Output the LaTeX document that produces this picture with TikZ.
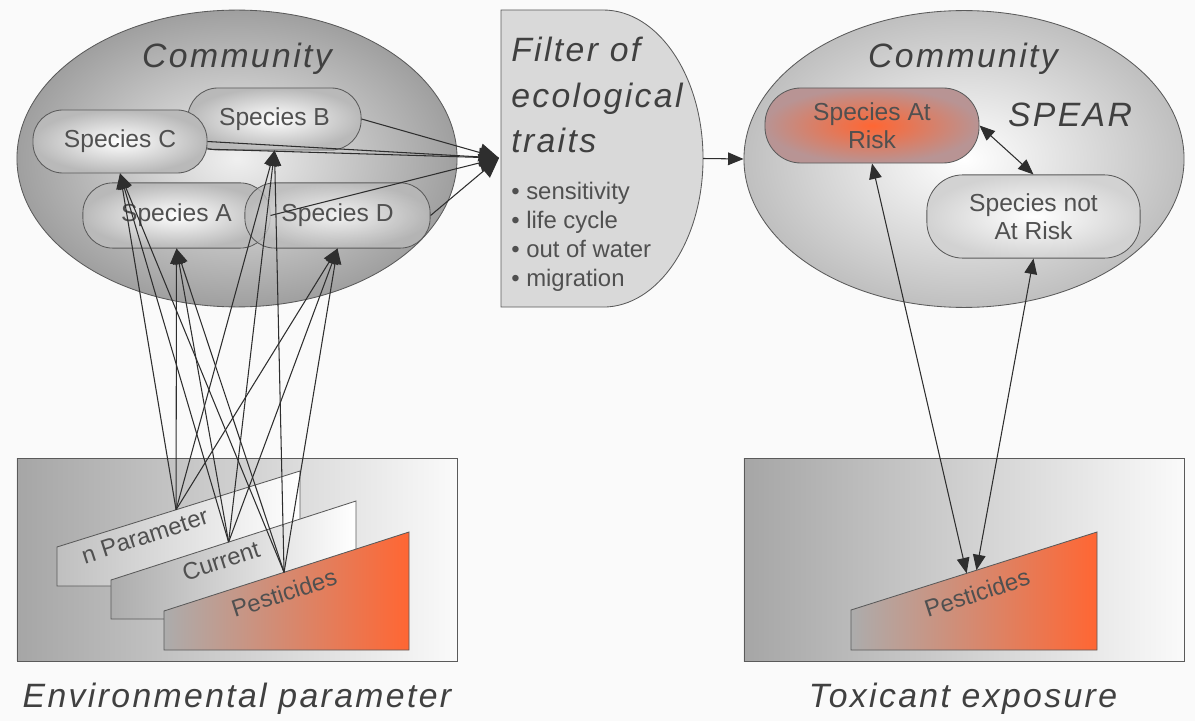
\documentclass[tikz,border=0pt]{standalone}
\usepackage{fontspec}
\setmainfont{Liberation Sans}
\newfontfamily\titlefont[LetterSpace=7]{Liberation Sans}
\usetikzlibrary{shapes.geometric,arrows.meta}

\definecolor{linegray}{HTML}{2E2E2E}
\definecolor{textgray}{HTML}{505050}
\definecolor{headgray}{HTML}{404040}
\definecolor{edgegray}{HTML}{5A5A5A}
\definecolor{filtergray}{HTML}{D9D9D9}
\definecolor{pestred}{HTML}{FF6633}
\definecolor{riskedge}{HTML}{B89494}
\definecolor{bggray}{HTML}{FAFAFA}

\tikzset{
  community/.style={ellipse, draw=edgegray, line width=0.6pt, inner sep=0pt,
    minimum width=11cm, minimum height=7.42cm},
  species/.style={draw=edgegray, line width=0.6pt, rounded corners=0.75cm,
    inner sep=0pt, inner color=white, outer color=gray!55, text=textgray,
    font=\fontsize{17.5}{19.5}\selectfont, align=center},
  headline/.style={text=headgray, font=\titlefont\itshape\fontsize{24}{29}\selectfont},
  traititem/.style={text=textgray, font=\fontsize{17}{20}\selectfont},
  envbox/.style={draw=edgegray, line width=0.6pt, left color=gray!70,
    right color=bggray, minimum width=11cm, minimum height=5.07cm},
  layer/.style={draw=edgegray, line width=0.6pt},
  layerlabel/.style={text=textgray, font=\fontsize{17}{20}\selectfont, rotate=18},
  link/.style={draw=linegray, line width=0.75pt, -{Triangle[length=11pt,width=9pt]}},
  bigtip/.style={draw=linegray, line width=0.75pt, -{Triangle[length=14pt,width=13pt]}},
  dlink/.style={draw=linegray, line width=0.75pt,
    {Triangle[length=11pt,width=9pt]}-{Triangle[length=11pt,width=9pt]}}
}

\begin{document}
\begin{tikzpicture}[x=0.025cm, y=-0.025cm]
\useasboundingbox[fill=bggray] (0,0) rectangle (1195,721);

% communities
\node[community, inner color=gray!12, outer color=gray!75] (commL) at (237,158.5) {};
\node[community, inner color=white, outer color=gray!50] (commR) at (964,159) {};
\node[headline, anchor=base] (commLhead) at (237,68) {Community};
\node[headline, anchor=base] (commRhead) at (963,68) {Community};
\node[headline, anchor=base] (spear) at (1070,127) {SPEAR};

% species, left
\node[species, minimum width=4.33cm, minimum height=1.55cm] (B) at (274.5,119) {Species B};
\node[species, minimum width=4.35cm, minimum height=1.575cm] (C) at (120,141.5) {Species C};
\node[species, minimum width=4.68cm, minimum height=1.63cm] (A) at (176.5,215.5) {Species A};
\node[species, fill opacity=0.8, text opacity=1, minimum width=4.63cm,
  minimum height=1.63cm] (D) at (337.5,215.5) {Species D};

% species, right
\node[species, inner color=pestred, outer color=riskedge, minimum width=5.35cm,
  minimum height=1.875cm, rounded corners=0.9cm] (risk) at (872,125.5) {Species At\\Risk};
\node[species, outer color=gray!35, minimum width=5.33cm, minimum height=2.08cm,
  rounded corners=0.9cm] (safe) at (1033.5,216.5) {Species not\\At Risk};

% filter
\draw[fill=filtergray, draw=edgegray, line width=0.6pt] (501,10) -- (603,10)
  arc[start angle=90, end angle=-90, x radius=2.5cm, y radius=3.7125cm]
  -- (501,307) -- cycle;
\coordinate (filterW) at (499,158);
\coordinate (filterE) at (703,158.5);
\foreach \txt [count=\i] in {Filter of, ecological, traits}
  \node[headline, anchor=base west, inner sep=0pt] (ft\i) at (511,{62+45.5*(\i-1)}) {\txt};
\foreach \txt [count=\i] in {sensitivity, life cycle, out of water, migration}
  \node[traititem, anchor=base west, inner sep=0pt] (fb\i) at (511,{200+28.7*(\i-1)}) {\textbullet\ \txt};

% environmental parameter
\node[envbox] (envL) at (237,559.5) {};
\draw[layer, left color=gray!50, right color=white]
  (57,586) -- (57,547) -- coordinate[pos=0.49] (srcN) (300,471) -- (300,586) -- cycle;
\draw[layer, left color=gray!65, right color=white]
  (111,619) -- (111,580) -- coordinate[pos=0.48] (srcCu) (356,501) -- (356,619) -- cycle;
\draw[layer, left color=gray!65, right color=pestred]
  (164,650) -- (164,611) -- coordinate[pos=0.49] (srcP) (409,532) -- (409,650) -- cycle;
\node[layerlabel] (lblN) at (145,536) {n Parameter};
\node[layerlabel] (lblCu) at (221,561) {Current};
\node[layerlabel] (lblP) at (284,593) {Pesticides};
\node[headline, anchor=base] (envhead) at (237,707) {Environmental parameter};

% toxicant exposure
\node[envbox] (envR) at (964,560) {};
\draw[layer, left color=gray!65, right color=pestred]
  (851,650) -- (851,610) -- coordinate[pos=0.47] (tgtA) coordinate[pos=0.51] (tgtB)
  (1097,532) -- (1097,650) -- cycle;
\node[layerlabel] (lblPR) at (977,593) {Pesticides};
\node[headline, anchor=base] (toxhead) at (963,707) {Toxicant exposure};

% connectors
\begin{scope}[link]
  \foreach \s in {srcN,srcCu,srcP}
    \foreach \t in {C,A,B,D}
      \draw (\s) -- (\t.south);
\end{scope}
\begin{scope}[bigtip]
  \draw (B.east) -- (filterW);
  \draw (C.east) -- (filterW);
  \draw (C.-5) -- (filterW);
  \draw (A.east) -- (filterW);
  \draw (D.east) -- (filterW);
\end{scope}
\draw[link] (filterE) -- (commR.west);
\draw[dlink] (risk.east) -- (safe.north);
\draw[dlink] (risk.south) -- (tgtA);
\draw[dlink] (safe.south) -- (tgtB);
\end{tikzpicture}
\end{document}
